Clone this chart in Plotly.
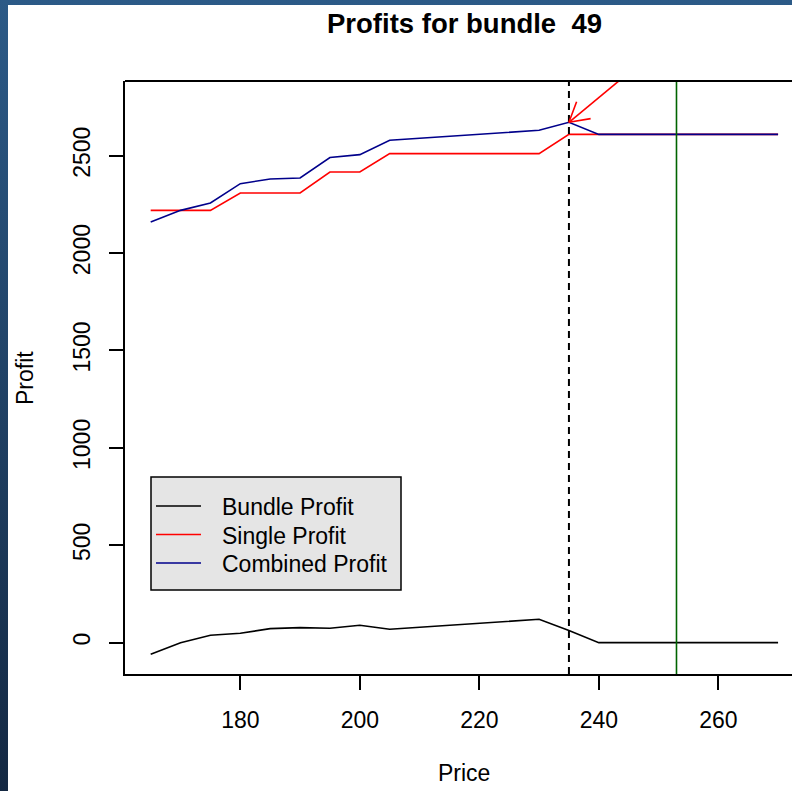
import plotly.graph_objects as go
import math

# ---------------- data ----------------
price = [165, 170, 175, 180, 185, 190, 195, 200, 205, 210, 215,
         220, 225, 230, 235, 240, 245, 250, 255, 260, 265, 270]
bundle_profit = [-60, 0, 38, 48, 72, 77, 74, 89, 69, 79, 90,
                 100, 110, 120, 62, 0, 0, 0, 0, 0, 0, 0]
single_profit = [2219, 2219, 2219, 2308, 2308, 2308, 2416, 2416, 2510, 2510, 2510,
                 2510, 2510, 2510, 2609, 2609, 2609, 2609, 2609, 2609, 2609, 2609]
combined_profit = [2159, 2219, 2257, 2356, 2380, 2385, 2490, 2505, 2579, 2589, 2600,
                   2610, 2620, 2630, 2671, 2609, 2609, 2609, 2609, 2609, 2609, 2609]
best_price = 235          # dashed line
other_price = 253         # green line
arrow_start = (245, 2925)
arrow_end = (235, 2671)
x_ticks = [180, 200, 220, 240, 260]
y_ticks = [0, 500, 1000, 1500, 2000, 2500]
legend_labels = ["Bundle Profit", "Single Profit", "Combined Profit"]
title_text = "Profits for bundle \u00a049"

# ---------------- layout geometry ----------------
# figure is offset inside the page by (OX, OY) to leave the blue frame visible
OX, OY = 8, 5
W, H = 792, 791
L, R, T, B = 125 - OX, 0, 81 - OY, 791 - (674 - OY)
PW, PH = W - L - R, H - T - B
PX_PER_X = 5.975
XR = [160.7, 160.7 + PW / PX_PER_X]
YR = [-161, 2883]
FONT = "Liberation Sans, Arial, sans-serif"

def px2x(px):   # page pixel -> paper x
    return (px - OX - L) / PW

def py2y(py):   # page pixel -> paper y
    return (H - B - (py - OY)) / PH

colors = ["#000000", "#FF0000", "#00008B"]

fig = go.Figure()
for ys, c, name in zip([bundle_profit, single_profit, combined_profit], colors, legend_labels):
    fig.add_trace(go.Scatter(x=price, y=ys, mode="lines", name=name,
                             line=dict(color=c, width=1.6), showlegend=False))

# vertical lines
fig.add_trace(go.Scatter(x=[best_price, best_price], y=YR, mode="lines",
                         line=dict(color="black", width=2, dash="7px,5px"), showlegend=False))
fig.add_trace(go.Scatter(x=[other_price, other_price], y=YR, mode="lines",
                         line=dict(color="#006400", width=1.6), showlegend=False))

# arrow (open head, computed in pixel space)
sx = PW / (XR[1] - XR[0])
sy = PH / (YR[1] - YR[0])
dxp = (arrow_start[0] - arrow_end[0]) * sx
dyp = (arrow_start[1] - arrow_end[1]) * sy
ang = math.atan2(dyp, dxp)
hl = 22
hx, hy = [], []
for a in (ang + math.radians(30), ang - math.radians(30)):
    hx.append(arrow_end[0] + hl * math.cos(a) / sx)
    hy.append(arrow_end[1] + hl * math.sin(a) / sy)
fig.add_trace(go.Scatter(
    x=[arrow_start[0], arrow_end[0], None, hx[0], arrow_end[0], hx[1]],
    y=[arrow_start[1], arrow_end[1], None, hy[0], arrow_end[1], hy[1]],
    mode="lines", line=dict(color="#FF0000", width=1.6), showlegend=False))

shapes = []
# top border of box
shapes.append(dict(type="line", xref="paper", yref="paper", x0=0, x1=1.05, y0=1, y1=1,
                   line=dict(color="black", width=2)))
# legend box
shapes.append(dict(type="rect", xref="paper", yref="paper",
                   x0=px2x(151), x1=px2x(401), y0=py2y(590), y1=py2y(477),
                   fillcolor="#E5E5E5", line=dict(color="black", width=1.5)))
row_y = [506, 534.5, 563]
annotations = []
for ry, c, lab in zip(row_y, colors, legend_labels):
    shapes.append(dict(type="line", xref="paper", yref="paper",
                       x0=px2x(156), x1=px2x(201), y0=py2y(ry), y1=py2y(ry),
                       line=dict(color=c, width=1.5)))
    annotations.append(dict(text=lab, xref="paper", yref="paper", x=px2x(220), y=py2y(ry + 1),
                            xanchor="left", yanchor="middle", showarrow=False,
                            font=dict(family=FONT, size=23, color="black")))

annotations.append(dict(text="<b>%s</b>" % title_text, xref="paper", yref="paper",
                        x=px2x(465), y=py2y(24), xanchor="center", yanchor="middle",
                        showarrow=False, font=dict(family=FONT, size=27.5, color="black")))
annotations.append(dict(text="Price", xref="paper", yref="paper",
                        x=px2x(464), y=py2y(773), xanchor="center", yanchor="middle",
                        showarrow=False, font=dict(family=FONT, size=23, color="black")))
annotations.append(dict(text="Profit", xref="paper", yref="paper",
                        x=px2x(25), y=py2y(378), xanchor="center", yanchor="middle",
                        textangle=-90, showarrow=False,
                        font=dict(family=FONT, size=23, color="black")))

fig.update_layout(
    width=W, height=H,
    margin=dict(l=L, r=R, t=T, b=B, pad=0),
    paper_bgcolor="white", plot_bgcolor="white",
    showlegend=False,
    shapes=shapes, annotations=annotations,
    font=dict(family=FONT, size=23, color="black"),
)
fig.update_xaxes(range=XR, tickvals=x_ticks, ticktext=[str(v) for v in x_ticks],
                 showgrid=False, zeroline=False, showline=True, linecolor="black", linewidth=2,
                 ticks="outside", ticklen=14, tickwidth=1.5, tickcolor="black",
                 ticklabelstandoff=10, tickfont=dict(family=FONT, size=23, color="black"))
fig.update_yaxes(range=YR, tickvals=y_ticks, ticktext=[str(v) for v in y_ticks],
                 showgrid=False, zeroline=False, showline=True, linecolor="black", linewidth=2,
                 ticks="outside", ticklen=14, tickwidth=1.5, tickcolor="black", tickangle=-90,
                 ticklabelstandoff=10, tickfont=dict(family=FONT, size=23, color="black"))

post = (
    "document.documentElement.style.background='linear-gradient(to bottom, #2c5a87, #142842)';"
    "document.documentElement.style.minHeight='100vh';"
    "document.documentElement.style.overflow='hidden';"
    "document.body.style.margin='" + str(OY) + "px 0 0 " + str(OX) + "px';"
    "document.body.style.background='transparent';"
    "document.body.style.overflow='hidden';"
)

fig.write_html("out.html", config={"displayModeBar": False}, post_script=post)
